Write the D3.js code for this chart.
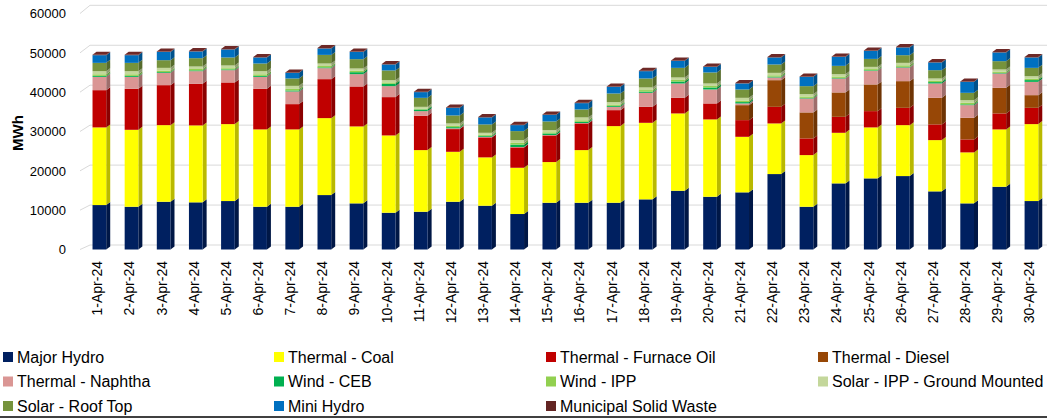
<!DOCTYPE html>
<html><head><meta charset="utf-8">
<script src="https://cdn.jsdelivr.net/npm/d3@7"></script>
<style>
html,body{margin:0;padding:0;background:#fff;}
svg{display:block;font-family:"Liberation Sans",Arial,sans-serif;}
</style></head>
<body>
<svg id="chart" width="1047" height="418"></svg>
<script>
const dates = ["1-Apr-24","2-Apr-24","3-Apr-24","4-Apr-24","5-Apr-24","6-Apr-24","7-Apr-24","8-Apr-24","9-Apr-24","10-Apr-24",
"11-Apr-24","12-Apr-24","13-Apr-24","14-Apr-24","15-Apr-24","16-Apr-24","17-Apr-24","18-Apr-24","19-Apr-24","20-Apr-24",
"21-Apr-24","22-Apr-24","23-Apr-24","24-Apr-24","25-Apr-24","26-Apr-24","27-Apr-24","28-Apr-24","29-Apr-24","30-Apr-24"];

const majorHydro = [11300,10870,12140,11990,12320,10870,10870,13840,11730,9350,9600,12140,11130,9020,11890,11890,11890,12750,14940,13410,14530,19180,10870,16810,18080,18670,14780,11730,15950,12320];
const thermalCoal = [19740,19560,19480,19560,19560,19660,19660,19560,19560,19650,15670,12700,12290,11760,10340,13380,19480,19460,19650,19660,14120,12870,13130,12860,12960,12950,13030,12960,14580,19560];
const thermalFurnaceOil = [9470,10410,10160,10560,10590,10310,6430,9910,10160,9740,8720,5770,5080,5180,6770,6780,4060,4060,3970,4060,4240,4220,4240,4060,4140,4400,3990,3300,4060,4140];
const thermalDiesel = [0,0,0,0,0,0,0,0,0,0,0,0,0,0,0,0,0,0,0,0,3810,6780,6610,6200,6780,6780,6760,5490,6510,3220];
const thermalNaphtha = [3380,3050,3130,3230,3120,3050,3220,2790,3130,2790,1190,200,150,100,100,100,840,3560,3650,3560,430,690,3550,3550,3460,3480,3650,3220,3650,3380];
const windCEB = [250,250,200,200,200,250,250,200,500,600,400,300,250,600,400,300,250,300,500,500,350,200,150,150,150,150,350,200,150,450];
const windIPP = [400,400,350,350,300,400,400,350,350,350,250,350,300,450,300,400,350,400,400,400,400,350,350,350,300,400,350,400,300,350];
const solarGround = [800,800,720,640,700,800,780,640,590,570,440,590,470,700,550,730,600,670,630,620,680,620,600,600,560,620,570,670,570,650];
const solarRoofTop = [2110,2110,1950,2110,2030,1950,1870,2190,2370,2470,2290,2040,2130,2290,2210,2030,2200,2280,2440,2800,2130,2130,2030,2110,2030,1950,2110,1860,2110,2110];
const miniHydro = [1950,1950,2110,1700,2030,1530,1430,1620,1850,1520,1450,1930,1780,1520,1680,1600,1680,1860,1780,1420,1520,1780,2360,2280,2040,1960,1960,2790,2210,2640];
const municipalSolidWaste = [110,110,110,110,110,110,110,110,110,110,100,100,100,100,100,100,100,110,110,110,100,110,110,110,110,110,110,110,110,110];

const seriesNames = ["Major Hydro","Thermal - Coal","Thermal - Furnace Oil","Thermal - Diesel","Thermal - Naphtha","Wind - CEB","Wind - IPP","Solar - IPP - Ground Mounted","Solar - Roof Top","Mini Hydro","Municipal Solid Waste"];
const seriesValues = [majorHydro,thermalCoal,thermalFurnaceOil,thermalDiesel,thermalNaphtha,windCEB,windIPP,solarGround,solarRoofTop,miniHydro,municipalSolidWaste];
const seriesColors = ["#002060","#FFFF00","#C00000","#974706","#DA9694","#00B050","#92D050","#C4D79B","#76933C","#0070C0","#632523"];
const yTicks = [0,10000,20000,30000,40000,50000,60000];

const svg = d3.select("#chart");
const keys = seriesNames;
const table = dates.map((d,i)=>{const o={date:d}; keys.forEach((k,j)=>o[k]=seriesValues[j][i]); return o;});
const stack = d3.stack().keys(keys)(table);
const color = d3.scaleOrdinal().domain(keys).range(seriesColors);

const x = d3.scaleBand().domain(dates).range([83.3,1047.5]).paddingInner(0.574).paddingOuter(0.287);
const yFront = d3.scaleLinear().domain([0,60000]).range([249.5,13.5]);
const yBack = d3.scaleLinear().domain([0,60000]).range([245,5.3]);
const DX = 4, DY = -3;

// gridlines (3D back wall)
svg.append("g").selectAll("path").data(yTicks).join("path")
  .attr("d", v => `M80,${yFront(v)}L90,${yBack(v)}H1047`)
  .attr("fill","none").attr("stroke","#d9d9d9").attr("stroke-width",1);

// y axis labels
const yAxis = svg.append("g").attr("transform","translate(69,0)")
  .call(d3.axisLeft(yFront).tickValues(yTicks).tickSize(0).tickPadding(3).tickFormat(d3.format("d")));
yAxis.select(".domain").remove();
yAxis.selectAll("text").attr("font-size",13).attr("fill","#000").attr("font-family","Liberation Sans, Arial, sans-serif");

svg.append("text").attr("transform","translate(23,133) rotate(-90)")
  .attr("text-anchor","middle").attr("font-size",15).attr("font-weight","bold").text("MWh");

// bars
const bw = x.bandwidth();
const layers = svg.append("g").selectAll("g").data(stack).join("g");
layers.each(function(layer){
  const c = color(layer.key);
  const g = d3.select(this);
  const segs = layer.filter(d => d[1]-d[0] > 0);
  g.selectAll("path.side").data(segs).join("path").attr("class","side")
    .attr("d", d => {
      const x1 = x(d.data.date)+bw, yb = yFront(d[0]), yt = yFront(d[1]);
      return `M${x1},${yb}L${x1+DX},${yb+DY}L${x1+DX},${yt+DY}L${x1},${yt}Z`;
    })
    .attr("fill", d3.color(c).darker(0.9));
  g.selectAll("rect").data(segs).join("rect")
    .attr("x", d => x(d.data.date)).attr("width", bw)
    .attr("y", d => yFront(d[1])).attr("height", d => yFront(d[0])-yFront(d[1]))
    .attr("fill", c);
});
// top faces
const topLayer = stack[stack.length-1];
svg.append("g").selectAll("path").data(topLayer).join("path")
  .attr("d", d => {
    const x0 = x(d.data.date), yt = yFront(d[1]);
    return `M${x0},${yt}L${x0+DX},${yt+DY}L${x0+bw+DX},${yt+DY}L${x0+bw},${yt}Z`;
  })
  .attr("fill", d3.color(seriesColors[10]).brighter(0.3));

// x axis labels
const xAxis = svg.append("g").attr("transform","translate(-2,261)")
  .call(d3.axisBottom(x).tickSize(0));
xAxis.select(".domain").remove();
xAxis.selectAll("text").attr("transform","rotate(-90)").attr("text-anchor","end")
  .attr("x",0).attr("y",0).attr("dy","0.35em")
  .attr("font-size",14).attr("fill","#000").attr("font-family","Liberation Sans, Arial, sans-serif");

// legend
const colX = [3,274,546,818], rowY = [357,381.5,406];
const leg = svg.append("g").selectAll("g").data(seriesNames).join("g")
  .attr("transform",(d,i)=>`translate(${colX[i%4]},${rowY[Math.floor(i/4)]})`);
leg.append("rect").attr("x",0).attr("y",-5).attr("width",10).attr("height",10).attr("fill",(d,i)=>seriesColors[i]);
leg.append("text").attr("x",14).attr("y",0).attr("dy","0.35em").attr("font-size",16).attr("fill","#000").text(d=>d);

svg.append("line").attr("x1",0).attr("x2",1047).attr("y1",417).attr("y2",417).attr("stroke","#000").attr("stroke-width",1.5);
</script>
</body></html>
